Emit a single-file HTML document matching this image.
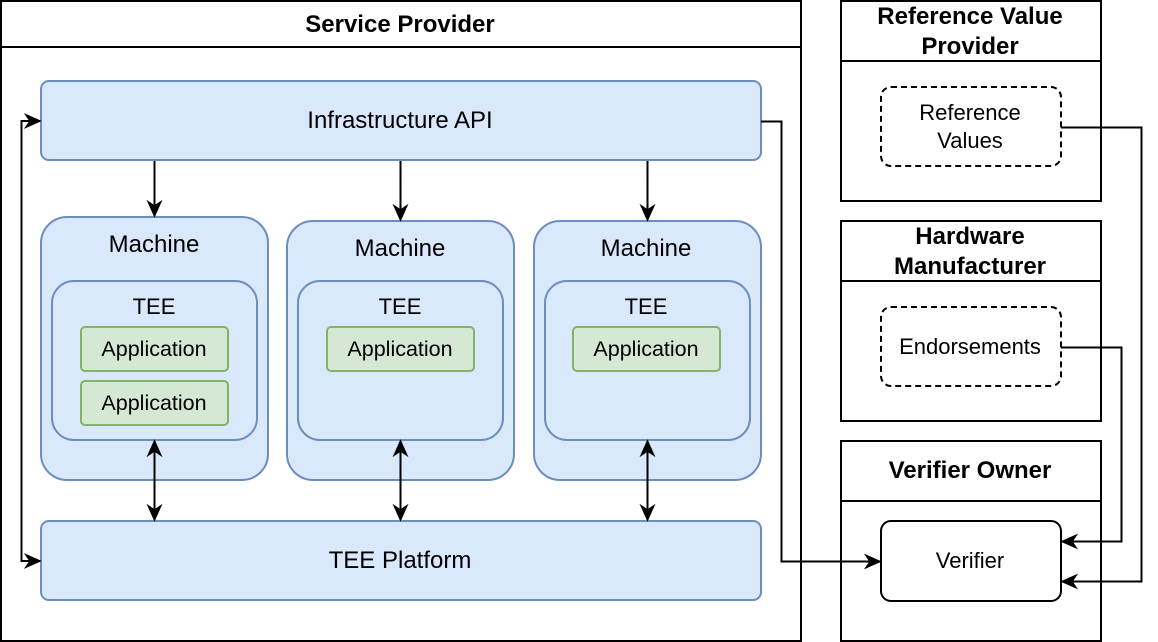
<!DOCTYPE html>
<html><head><meta charset="utf-8"><style>html,body{margin:0;padding:0;background:#fff}svg{display:block}</style></head>
<body>
<svg width="1158" height="642" viewBox="0 0 1158 642" xmlns="http://www.w3.org/2000/svg" font-family="Liberation Sans, Arial, sans-serif">
<defs>
<marker id="a" viewBox="0 0 10 10" refX="9" refY="5" markerWidth="18" markerHeight="16" orient="auto-start-reverse" markerUnits="userSpaceOnUse" preserveAspectRatio="none"><path d="M0,0 L10,5 L0,10 L3,5 z" fill="#000"/></marker>
</defs>
<rect width="1158" height="642" fill="#fff"/>
<rect x="1" y="1" width="800" height="640" fill="#fff" stroke="#000" stroke-width="2"/>
<line x1="1" y1="47" x2="801" y2="47" stroke="#000" stroke-width="2"/>
<text x="400" y="32" font-size="24" font-weight="bold" text-anchor="middle">Service Provider</text>

<rect x="41" y="81" width="720" height="79" rx="8" fill="#dae8fc" stroke="#6c8ebf" stroke-width="2"/>
<text x="400" y="128" font-size="24" text-anchor="middle">Infrastructure API</text>
<rect x="41" y="521" width="720" height="79" rx="8" fill="#dae8fc" stroke="#6c8ebf" stroke-width="2"/>
<text x="400" y="568" font-size="24" text-anchor="middle">TEE Platform</text>

<g fill="#dae8fc" stroke="#6c8ebf" stroke-width="2">
<rect x="41" y="217" width="227" height="263" rx="26"/>
<rect x="287" y="221" width="227" height="259" rx="26"/>
<rect x="534" y="221" width="227" height="259" rx="26"/>
<rect x="52" y="281" width="205" height="159" rx="22"/>
<rect x="298" y="281" width="205" height="159" rx="22"/>
<rect x="545" y="281" width="205" height="159" rx="22"/>
</g>
<g font-size="24" text-anchor="middle">
<text x="154" y="252">Machine</text>
<text x="400" y="256">Machine</text>
<text x="646" y="256">Machine</text>
</g>
<g font-size="22" text-anchor="middle">
<text x="154" y="314">TEE</text>
<text x="400" y="314">TEE</text>
<text x="646" y="314">TEE</text>
</g>
<g fill="#d5e8d4" stroke="#82b366" stroke-width="2">
<rect x="81" y="327" width="147" height="44" rx="4"/>
<rect x="81" y="381" width="147" height="44" rx="4"/>
<rect x="327" y="327" width="147" height="44" rx="4"/>
<rect x="573" y="327" width="147" height="44" rx="4"/>
</g>
<g font-size="21.5" text-anchor="middle">
<text x="154" y="356">Application</text>
<text x="154" y="410">Application</text>
<text x="400" y="356">Application</text>
<text x="646" y="356">Application</text>
</g>

<g stroke="#000" stroke-width="2" fill="none">
<line x1="154.5" y1="161" x2="154.5" y2="216" marker-end="url(#a)"/>
<line x1="400.5" y1="161" x2="400.5" y2="220" marker-end="url(#a)"/>
<line x1="647.5" y1="161" x2="647.5" y2="220" marker-end="url(#a)"/>
<line x1="154.5" y1="441" x2="154.5" y2="520" marker-start="url(#a)" marker-end="url(#a)"/>
<line x1="400.5" y1="441" x2="400.5" y2="520" marker-start="url(#a)" marker-end="url(#a)"/>
<line x1="647.5" y1="441" x2="647.5" y2="520" marker-start="url(#a)" marker-end="url(#a)"/>
<polyline points="40,121 21.5,121 21.5,561 40,561" marker-start="url(#a)" marker-end="url(#a)"/>
<polyline points="761,121.5 781.5,121.5 781.5,561.5 880,561.5" marker-end="url(#a)"/>
<polyline points="1061,127.5 1141.5,127.5 1141.5,581.5 1062,581.5" marker-end="url(#a)"/>
<polyline points="1061,347.5 1121.5,347.5 1121.5,541.5 1062,541.5" marker-end="url(#a)"/>
</g>

<g fill="none" stroke="#000" stroke-width="2">
<rect x="841" y="1" width="260" height="200"/>
<line x1="841" y1="61" x2="1101" y2="61"/>
<rect x="841" y="221" width="260" height="200"/>
<line x1="841" y1="281" x2="1101" y2="281"/>
<rect x="841" y="441" width="260" height="200"/>
<line x1="841" y1="501" x2="1101" y2="501"/>
<rect x="881" y="87" width="180" height="79" rx="10" stroke-dasharray="6 4"/>
<rect x="881" y="307" width="180" height="79" rx="10" stroke-dasharray="6 4"/>
<rect x="881" y="521" width="180" height="80" rx="10"/>
</g>
<g font-size="24" font-weight="bold" text-anchor="middle">
<text x="970" y="24">Reference Value</text>
<text x="970" y="54">Provider</text>
<text x="970" y="244">Hardware</text>
<text x="970" y="274">Manufacturer</text>
<text x="970" y="478">Verifier Owner</text>
</g>
<g font-size="22" text-anchor="middle">
<text x="970" y="120">Reference</text>
<text x="970" y="148">Values</text>
<text x="970" y="354">Endorsements</text>
<text x="970" y="568">Verifier</text>
</g>
</svg>
</body></html>
